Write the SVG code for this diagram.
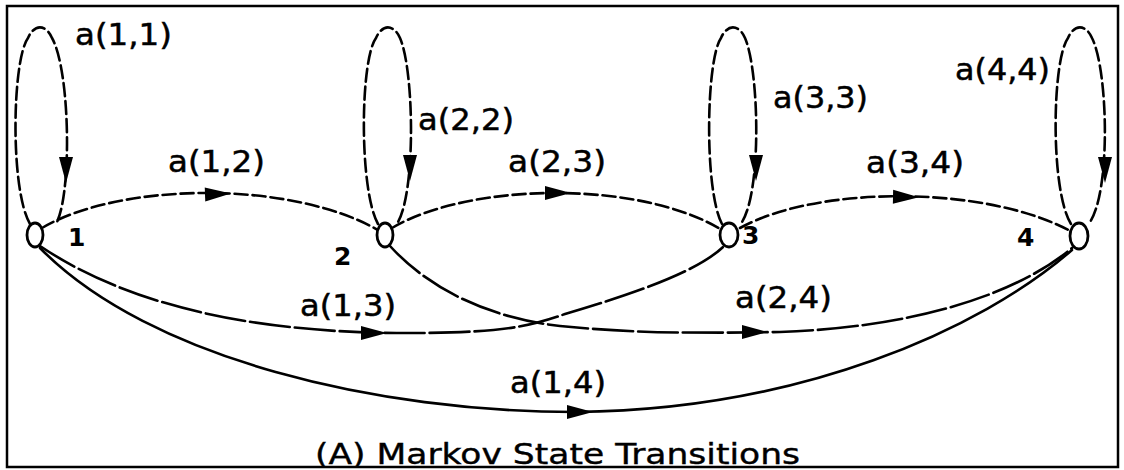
<svg xmlns="http://www.w3.org/2000/svg" width="1124" height="470" viewBox="0 0 1124 470">
<style>
.edge{fill:none;stroke:#000;stroke-width:2.6;stroke-linecap:round}
.dash{stroke-dasharray:13 5}
.ldash{stroke-dasharray:40 5}
.node{fill:#fff;stroke:#000;stroke-width:2.8}
.lbl{font-family:"DejaVu Sans",sans-serif;font-size:30px;fill:#000;stroke:#000;stroke-width:0.5}
.num{font-family:"DejaVu Sans",sans-serif;font-size:25px;font-weight:bold;fill:#000}
.ttl{font-family:"DejaVu Sans",sans-serif;font-size:29px;fill:#000;stroke:#000;stroke-width:0.4}
</style>
<defs>
<path id="ah" d="M13,0 L-13,-7 L-13,7 Z" fill="#000"/>
</defs>
<rect x="7" y="6" width="1111" height="461" fill="#fff" stroke="#000" stroke-width="2.5"/>
<g id="connectors">
<path class="edge dash" d="M30,224 C10,190 12,60 28,38 C34,24 46,24 52,38 C70,70 72,190 57,222"/>
<path class="edge dash" d="M378,224 C359,190 360,60 376,38 C382,24 394,24 400,38 C414,70 416,190 398,222"/>
<path class="edge dash" d="M722,224 C704,190 706,60 721,38 C727,24 739,24 745,38 C759,70 762,190 742,222"/>
<path class="edge dash" d="M1071,224 C1050,190 1052,60 1068,38 C1074,24 1086,24 1092,38 C1108,70 1111,190 1090,222"/>
<path class="edge dash" d="M42,228 C120,182 290,180 378,230"/>
<path class="edge dash" d="M392,228 C470,182 640,180 722,230"/>
<path class="edge dash" d="M740,228 C820,184 990,186 1072,232"/>
<path class="edge ldash" d="M40,246 C150,320 300,334 420,333 C500,332 525,328 565,314 C640,292 700,270 724,246"/>
<path class="edge ldash" d="M390,246 C430,290 490,318 560,326 C640,334 700,333 780,332 C900,328 1010,300 1072,248"/>
<path class="edge" d="M40,248 C150,360 380,412 575,412 C800,410 980,330 1072,250"/>
<use href="#ah" transform="translate(66,170) rotate(90)"/>
<use href="#ah" transform="translate(410,168) rotate(90)"/>
<use href="#ah" transform="translate(756,168) rotate(90)"/>
<use href="#ah" transform="translate(1105,170) rotate(90)"/>
<use href="#ah" transform="translate(218,194) rotate(-2)"/>
<use href="#ah" transform="translate(558,193)"/>
<use href="#ah" transform="translate(906,197) rotate(1)"/>
<use href="#ah" transform="translate(374,333)"/>
<use href="#ah" transform="translate(755,332)"/>
<use href="#ah" transform="translate(580,412)"/>
</g>
<g id="n1"><ellipse class="node" cx="35" cy="235" rx="8" ry="12"/><text class="num" x="68" y="246">1</text></g>
<g id="n2"><ellipse class="node" cx="385" cy="235" rx="8" ry="12"/><text class="num" x="334" y="265">2</text></g>
<g id="n3"><ellipse class="node" cx="729" cy="235" rx="9" ry="12"/><text class="num" x="742" y="244">3</text></g>
<g id="n4"><ellipse class="node" cx="1079" cy="236" rx="9" ry="13"/><text class="num" x="1017" y="246">4</text></g>
<g id="labels">
<text class="lbl" x="75" y="45" textLength="97" lengthAdjust="spacingAndGlyphs">a(1,1)</text>
<text class="lbl" x="168" y="172" textLength="97" lengthAdjust="spacingAndGlyphs">a(1,2)</text>
<text class="lbl" x="418" y="130" textLength="96" lengthAdjust="spacingAndGlyphs">a(2,2)</text>
<text class="lbl" x="508" y="172" textLength="98" lengthAdjust="spacingAndGlyphs">a(2,3)</text>
<text class="lbl" x="773" y="108" textLength="95" lengthAdjust="spacingAndGlyphs">a(3,3)</text>
<text class="lbl" x="866" y="173" textLength="98" lengthAdjust="spacingAndGlyphs">a(3,4)</text>
<text class="lbl" x="955" y="80" textLength="95" lengthAdjust="spacingAndGlyphs">a(4,4)</text>
<text class="lbl" x="300" y="316" textLength="96" lengthAdjust="spacingAndGlyphs">a(1,3)</text>
<text class="lbl" x="735" y="308" textLength="97" lengthAdjust="spacingAndGlyphs">a(2,4)</text>
<text class="lbl" x="510" y="393" textLength="96" lengthAdjust="spacingAndGlyphs">a(1,4)</text>
<text class="ttl" x="315" y="464" textLength="485" lengthAdjust="spacingAndGlyphs">(A) Markov State Transitions</text>
</g>
</svg>
